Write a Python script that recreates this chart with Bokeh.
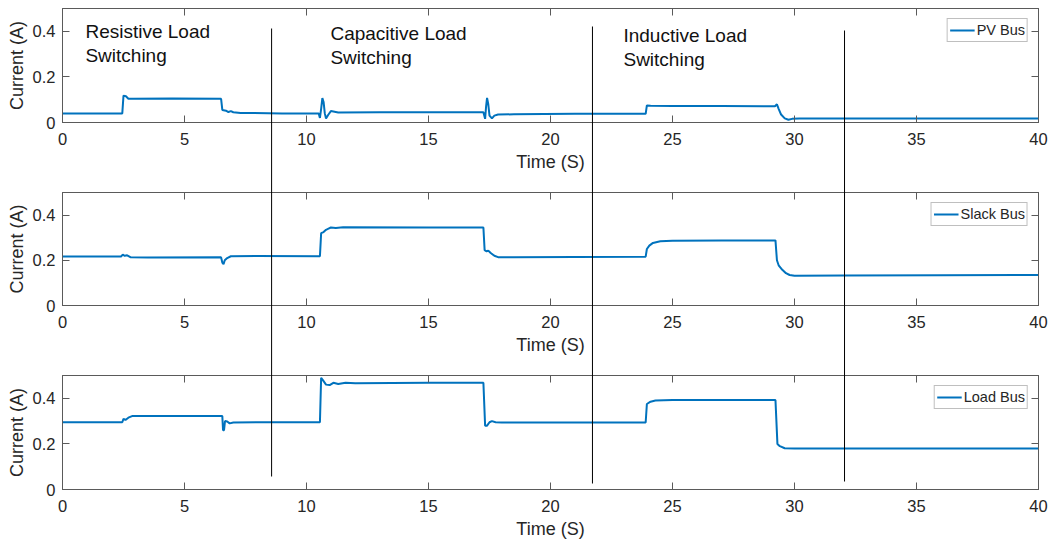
from bokeh.plotting import figure
from bokeh.models import Range1d, LinearAxis, FixedTicker, GridBox
from bokeh.embed import file_html
from bokeh.resources import INLINE
from bokeh.core.properties import value

# ---------------- data ----------------
time_pv = [0, 2.45, 2.5, 2.6, 2.7, 2.9, 4.5, 6.5, 6.55, 6.7, 6.8, 6.9, 7.0, 7.3, 9.0,
           10.5, 10.55, 10.6, 10.65, 10.7, 10.75, 10.8, 10.9, 11.0, 11.1, 11.3, 13.0, 15.0,
           17.25, 17.32, 17.36, 17.4, 17.45, 17.5, 17.6, 17.7, 17.85, 18.5, 21.0,
           23.9, 23.95, 24.1, 25.0, 27.0, 29.2, 29.28, 29.35, 29.45, 29.6, 29.75, 29.9, 30.2,
           33.0, 36.0, 40.0]
current_pv = [0.040, 0.040, 0.118, 0.115, 0.104, 0.104, 0.105, 0.104, 0.055, 0.052, 0.046, 0.050, 0.045, 0.042, 0.040,
              0.040, 0.020, 0.060, 0.107, 0.090, 0.040, 0.018, 0.035, 0.050, 0.048, 0.044, 0.045, 0.045,
              0.045, 0.016, 0.070, 0.108, 0.080, 0.030, 0.018, 0.030, 0.035, 0.036, 0.038,
              0.038, 0.075, 0.073, 0.072, 0.072, 0.071, 0.080, 0.060, 0.035, 0.018, 0.012, 0.016, 0.018,
              0.018, 0.017, 0.017]

time_slack = [0, 2.4, 2.47, 2.55, 2.65, 2.8, 3.5, 6.5, 6.55, 6.6, 6.65, 6.75, 6.9, 8.0,
              10.55, 10.6, 10.7, 10.8, 10.9, 11.0, 11.2, 11.5, 15.0,
              17.25, 17.3, 17.38, 17.45, 17.55, 17.7, 17.85, 18.5, 21.0,
              23.9, 23.95, 24.05, 24.2, 24.5, 25.0, 27.0,
              29.22, 29.28, 29.35, 29.5, 29.65, 29.8, 30.0, 32.0, 36.0, 40.0]
current_slack = [0.217, 0.217, 0.225, 0.220, 0.222, 0.213, 0.212, 0.213, 0.190, 0.183, 0.200, 0.210, 0.218, 0.219,
                 0.218, 0.320, 0.325, 0.335, 0.340, 0.345, 0.343, 0.346, 0.345,
                 0.345, 0.245, 0.240, 0.243, 0.232, 0.220, 0.214, 0.213, 0.215,
                 0.216, 0.250, 0.265, 0.277, 0.284, 0.287, 0.288,
                 0.288, 0.200, 0.178, 0.158, 0.143, 0.135, 0.132, 0.133, 0.134, 0.135]

time_load = [0, 2.45, 2.5, 2.58, 2.7, 2.85, 4.0, 6.55, 6.58, 6.62, 6.66, 6.75, 6.85, 7.0, 9.0,
             10.55, 10.6, 10.7, 10.8, 10.95, 11.1, 11.3, 11.6, 12.0, 15.0,
             17.25, 17.32, 17.4, 17.5, 17.6, 17.75, 18.0, 21.0,
             23.9, 23.95, 24.1, 24.3, 25.0, 27.0,
             29.22, 29.3, 29.4, 29.6, 30.0, 35.0, 40.0]
current_load = [0.295, 0.295, 0.310, 0.305, 0.315, 0.322, 0.322, 0.322, 0.260, 0.260, 0.300, 0.298, 0.290, 0.294, 0.295,
                0.295, 0.490, 0.475, 0.460, 0.458, 0.468, 0.463, 0.468, 0.466, 0.468,
                0.468, 0.280, 0.280, 0.295, 0.300, 0.295, 0.294, 0.294,
                0.294, 0.375, 0.385, 0.390, 0.392, 0.392,
                0.392, 0.200, 0.190, 0.181, 0.180, 0.180, 0.180]

series_names = ["PV Bus", "Slack Bus", "Load Bus"]
x_ticks = [0, 5, 10, 15, 20, 25, 30, 35, 40]
y_ticks = [0, 0.2, 0.4]
y_tick_labels = {0: "0", 0.2: "0.2", 0.4: "0.4"}
event_times = [8.57, 21.72, 32.05]
region_labels = ["Resistive Load\nSwitching", "Capacitive Load\nSwitching", "Inductive Load\nSwitching"]
region_label_t = [0.94, 10.98, 22.99]
region_label_y = [0.447, 0.438, 0.428]

# ---------------- layout constants ----------------
FONT = "Liberation Sans"
LINE_COLOR = "#0072BD"
AX_COLOR = "#5a5a5a"
TXT_COLOR = "#262626"
FRAME_W = 976
LEFT, RIGHT = 62, 13
line_tops = [20, 18, 22]        # screen rows of event line ends
line_bottoms = [468, 475, 473]

x_shared = Range1d(0, 40)


def style_axis(ax, labels=True):
    ax.axis_line_color = AX_COLOR
    ax.major_tick_line_color = AX_COLOR
    ax.major_tick_in = 7
    ax.major_tick_out = 0
    ax.minor_tick_line_color = None
    if labels:
        ax.major_label_text_font = FONT
        ax.major_label_text_font_size = "16.5px"
        ax.major_label_text_color = TXT_COLOR
        ax.axis_label_text_font = FONT
        ax.axis_label_text_font_size = "18px"
        ax.axis_label_text_font_style = "normal"
        ax.axis_label_text_color = TXT_COLOR
    else:
        ax.major_label_text_font_size = "1px"
        ax.major_label_text_color = None
        ax.major_label_standoff = 0


def panel(t, v, name, top_b, frame_h, bottom_b):
    p = figure(frame_width=FRAME_W, frame_height=frame_h, x_range=x_shared, y_range=Range1d(0, 0.5),
               min_border_left=LEFT, min_border_right=RIGHT, min_border_top=top_b, min_border_bottom=bottom_b,
               output_backend="svg", toolbar_location=None)
    p.xgrid.visible = False
    p.ygrid.visible = False
    p.outline_line_color = AX_COLOR
    p.background_fill_color = "white"
    p.border_fill_color = "white"

    p.line(t, v, line_color=LINE_COLOR, line_width=2, legend_label=name)

    xa = p.xaxis[0]
    xa.ticker = FixedTicker(ticks=x_ticks)
    xa.axis_label = "Time (S)"
    style_axis(xa)
    xa.major_label_standoff = 10
    xa.axis_label_standoff = 4

    ya = p.yaxis[0]
    ya.ticker = FixedTicker(ticks=y_ticks)
    ya.major_label_overrides = y_tick_labels
    ya.axis_label = "Current (A)"
    style_axis(ya)
    ya.major_label_standoff = 7
    ya.axis_label_standoff = 3

    top = LinearAxis(ticker=FixedTicker(ticks=x_ticks))
    style_axis(top, labels=False)
    p.add_layout(top, "above")
    right = LinearAxis(ticker=FixedTicker(ticks=y_ticks))
    style_axis(right, labels=False)
    p.add_layout(right, "right")

    lg = p.legend[0]
    lg.location = "top_right"
    lg.margin = 10
    lg.padding = 2
    lg.spacing = 0
    lg.glyph_width = 25
    lg.glyph_height = 18
    lg.label_height = 18
    lg.label_standoff = 2
    lg.label_text_font = FONT
    lg.label_text_font_size = "14.5px"
    lg.label_text_color = TXT_COLOR
    lg.border_line_color = "#808080"
    lg.border_line_width = 1
    lg.background_fill_color = "white"
    lg.background_fill_alpha = 1
    return p


p1 = panel(time_pv, current_pv, series_names[0], 8, 114, 61)
p2 = panel(time_slack, current_slack, series_names[1], 9, 113, 61)
p3 = panel(time_load, current_load, series_names[2], 9, 114, 55)

p1.text(x=region_label_t, y=region_label_y, text=region_labels, text_font=value(FONT),
        text_font_size="19px", text_baseline="top", text_align="left", text_color="#111111",
        text_line_height=1.15)

# overlay for the event lines that cross all panels
ov = figure(frame_width=FRAME_W, frame_height=544, x_range=x_shared, y_range=Range1d(544, 0),
            min_border_left=LEFT, min_border_right=RIGHT, min_border_top=0, min_border_bottom=0,
            x_axis_type=None, y_axis_type=None, output_backend="svg", toolbar_location=None)
ov.outline_line_color = None
ov.background_fill_color = None
ov.border_fill_color = None
ov.segment(x0=event_times, y0=line_tops, x1=event_times, y1=line_bottoms, line_color="black", line_width=1)

grid = GridBox(children=[(p1, 0, 0), (p2, 1, 0), (p3, 2, 0), (ov, 0, 0, 3, 1)], spacing=0)

open("out.html", "w").write(file_html(grid, INLINE))
